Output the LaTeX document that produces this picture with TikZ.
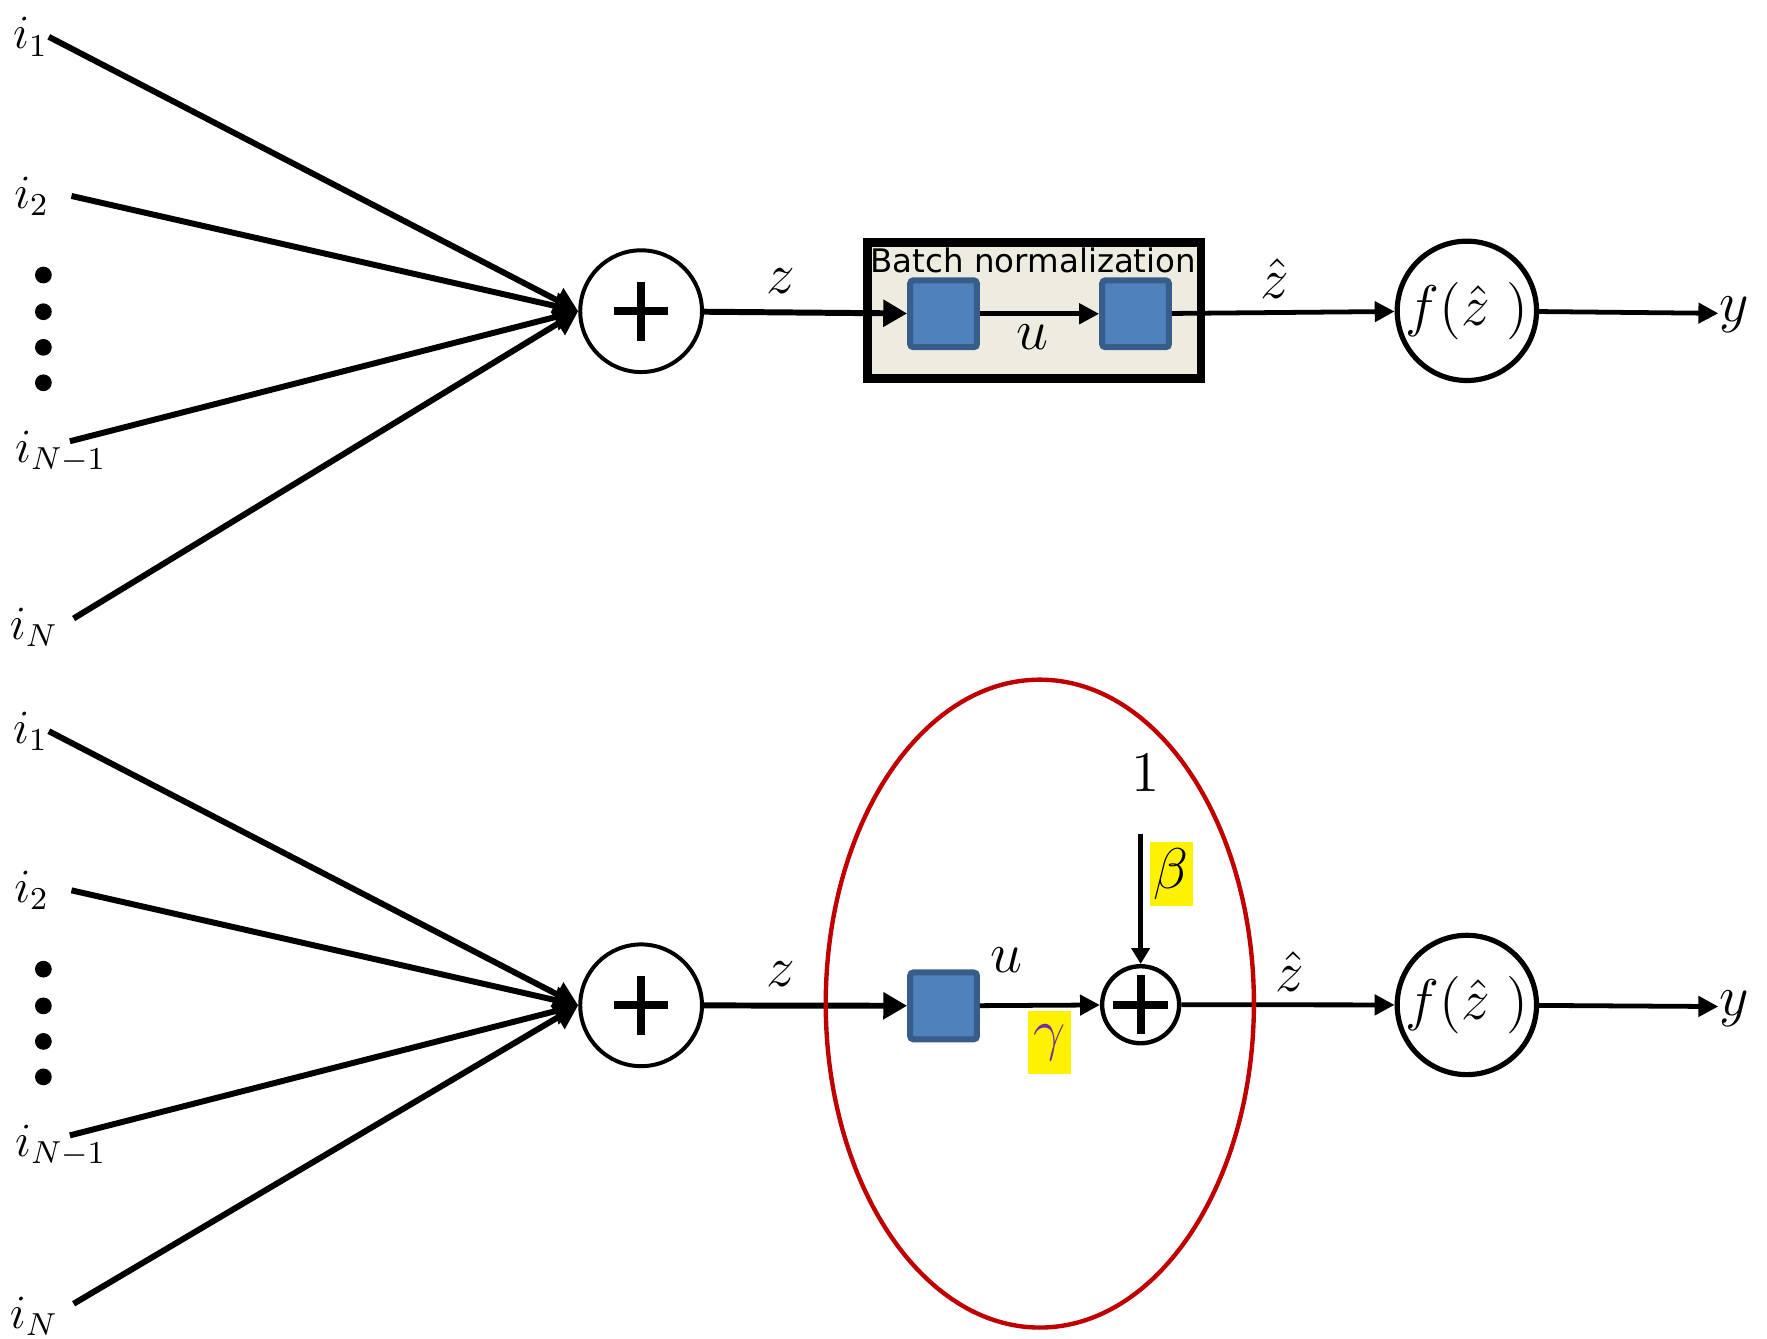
\documentclass[tikz,border=0pt]{standalone}
\usepackage{amsmath}
\usepackage{fontspec}
\usepackage{tikz}
\usetikzlibrary{arrows.meta,calc,shapes,positioning}

\newfontfamily\bnfont{DejaVu Sans}
\definecolor{boxblue}{HTML}{4F81BD}
\definecolor{boxedge}{HTML}{385D8A}
\definecolor{bnback}{HTML}{EEECE1}
\definecolor{ovalred}{HTML}{C00000}
\definecolor{gampurple}{HTML}{7030A0}

\begin{document}
\begin{tikzpicture}[
    x = 1cm, y = -1cm,
    font = \fontsize{15}{18}\selectfont
  ]

  \useasboundingbox (0,0) rectangle (15.6,11.82);

  \tikzstyle {every node} = [inner sep = 0]
  \tikzstyle {inp} = [line width = 1.5pt, -{Triangle[length = 6pt, width = 6.5pt]}]
  \tikzstyle {thn} = [line width = 1.2pt, -{Triangle[length = 5pt, width = 5pt]}]
  \tikzstyle {lbl} = [font = \fontsize{12}{14}\selectfont]
  \tikzstyle {sum} = [circle, draw, line width = 1pt, minimum size = 1.075cm, path picture = {
      \draw [line width = 2pt] ([xshift = -2.4mm] path picture bounding box.center) -- ([xshift = 2.4mm] path picture bounding box.center)
        ([yshift = -2.6mm] path picture bounding box.center) -- ([yshift = 2.6mm] path picture bounding box.center);}]
  \tikzstyle {sq} = [rectangle, draw = boxedge, fill = boxblue, line width = 1.5pt, minimum size = 0.59cm, rounded corners = 0.8pt]
  \tikzstyle {bnbox} = [rectangle, draw, fill = bnback, line width = 2.1pt, minimum width = 2.94cm, minimum height = 1.2cm]
  \tikzstyle {act} = [circle, draw, line width = 1.3pt, minimum size = 1.23cm]
  \tikzstyle {hl} = [fill = yellow, minimum width = 0.38cm, minimum height = 0.56cm]
  \tikzstyle {oval} = [ellipse, draw = ovalred, line width = 1.1pt, minimum width = 3.78cm, minimum height = 5.72cm]

  % upper neuron
  \node [lbl] (i1t) at (0.27, 0.325) {$i_1$};
  \node [lbl] (i2t) at (0.28, 1.73) {$i_2$};
  \node [lbl] (inm1t) at (0.537, 3.987) {$i_{N-1}$};
  \node [lbl] (iNt) at (0.30, 5.54) {$i_N$};
  \fill (0.383, 2.428) circle (0.74mm) (0.383, 2.752) circle (0.74mm) (0.383, 3.066) circle (0.74mm) (0.383, 3.379) circle (0.74mm);

  \node [sum] (sumt) at (5.66, 2.747) {};
  \node [bnbox] (bn) at (9.13, 2.74) {};
  \node [anchor = base west, font = \bnfont\fontsize{8.15}{10}\selectfont] (bntxt) at (7.68, 2.404) {Batch normalization};
  \node [sq] (sq1t) at (8.33, 2.77) {};
  \node [sq] (sq2t) at (10.025, 2.77) {};
  \node [act] (actt) at (12.95, 2.744) {$f(\hat{z}\;)$};
  \node [anchor = mid west] (yt) at (15.17, 2.766) {$y$};

  \draw [inp] (i1t.east) -- (sumt.west);
  \draw [inp] ([xshift = 1.9mm] i2t.east) -- (sumt.west);
  \draw [inp] ([xshift = 0.8mm, yshift = -1mm] inm1t.north) -- (sumt.west);
  \draw [inp] ([xshift = 1.3mm, yshift = 0.8mm] iNt.east) -- (sumt.west);
  \draw [inp] (sumt) -- node [pos = 0.38, above = 1.4mm] {$z$} (sq1t);
  \draw [thn] (sq1t) -- node [pos = 0.44, below = 0.8mm] {$u$} (sq2t);
  \draw [thn] (sq2t) -- node [pos = 0.46, above = 1mm] {$\hat{z}$} (actt);
  \draw [thn] (actt) -- (yt.mid west);

  % lower neuron, scale and shift spelled out
  \node [lbl] (i1b) at (0.27, 6.455) {$i_1$};
  \node [lbl] (i2b) at (0.28, 7.86) {$i_2$};
  \node [lbl] (inm1b) at (0.537, 10.115) {$i_{N-1}$};
  \node [lbl] (iNb) at (0.30, 11.62) {$i_N$};
  \fill (0.383, 8.556) circle (0.74mm) (0.383, 8.88) circle (0.74mm) (0.383, 9.194) circle (0.74mm) (0.383, 9.507) circle (0.74mm);

  \node [sum] (sumb) at (5.66, 8.875) {};
  \node [sq] (sqb) at (8.33, 8.88) {};
  \node [sum, minimum size = 0.68cm, line width = 1.1pt] (addb) at (10.07, 8.87) {};
  \node (one) at (10.11, 6.82) {$1$};
  \coordinate (bsrc) at (10.07, 7.36);
  \node [act] (actb) at (12.95, 8.872) {$f(\hat{z}\;)$};
  \node [anchor = mid west] (yb) at (15.17, 8.886) {$y$};

  \draw [inp] (i1b.east) -- (sumb.west);
  \draw [inp] ([xshift = 1.9mm] i2b.east) -- (sumb.west);
  \draw [inp] ([xshift = 0.8mm, yshift = -1mm] inm1b.north) -- (sumb.west);
  \draw [inp] ([xshift = 1.3mm, yshift = 1.1mm] iNb.east) -- (sumb.west);
  \draw [inp] (sumb) -- node [pos = 0.38, above = 1.4mm] {$z$} (sqb);
  \draw [thn] (sqb) -- node [pos = 0.22, above = 2.7mm] {$u$}
                       node [hl, pos = 0.58, below = 0.3mm] {$\color{gampurple}\gamma$} (addb);
  \draw [thn, -{Triangle[length = 4pt, width = 4.5pt]}] (bsrc) -- node [hl, pos = 0.31, right = 0.6mm] {$\beta$} (addb);
  \draw [thn] (addb) -- node [pos = 0.51, above = 1mm] {$\hat{z}$} (actb);
  \draw [thn] (actb) -- (yb.mid west);

  \node [oval] (bnoval) at (9.18, 8.86) {};
\end{tikzpicture}
\end{document}
